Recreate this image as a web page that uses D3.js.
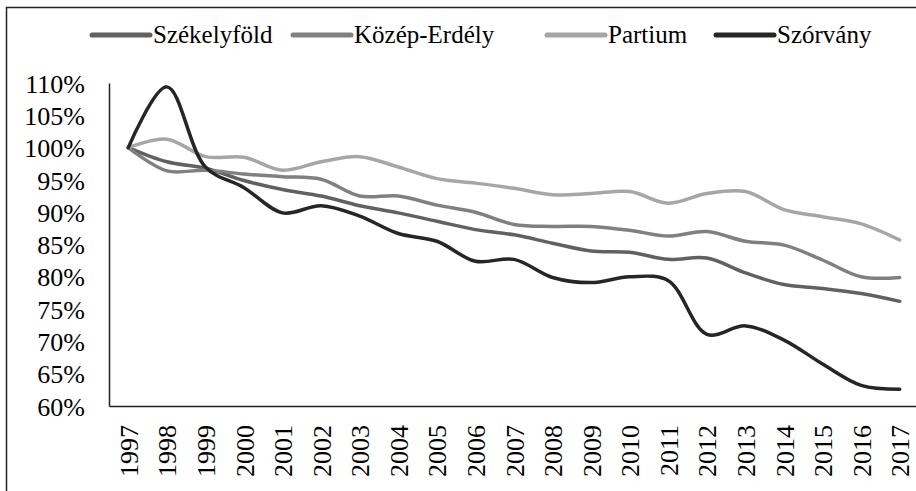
<!DOCTYPE html>
<html>
<head>
<meta charset="utf-8">
<script src="https://cdn.jsdelivr.net/npm/d3@7"></script>
<style>
  html, body { margin: 0; padding: 0; background: #fff; }
  svg { display: block; font-family: "Liberation Serif", serif; }
</style>
</head>
<body>
<svg id="chart" width="916" height="491"></svg>
<script>
const years = ["1997","1998","1999","2000","2001","2002","2003","2004","2005","2006","2007","2008","2009","2010","2011","2012","2013","2014","2015","2016","2017"];
const seriesNames = ["Székelyföld", "Közép-Erdély", "Partium", "Szórvány"];
const szekelyfold = [100, 97.8, 96.8, 94.9, 93.5, 92.5, 91.0, 89.9, 88.6, 87.3, 86.5, 85.2, 84.0, 83.8, 82.7, 82.9, 80.6, 78.8, 78.2, 77.4, 76.2];
const kozepErdely = [100, 96.4, 96.5, 95.9, 95.5, 95.1, 92.5, 92.5, 91.1, 90.0, 88.1, 87.8, 87.8, 87.2, 86.3, 87.0, 85.5, 84.9, 82.6, 80.0, 79.9];
const partium = [100, 101.3, 98.6, 98.5, 96.5, 97.8, 98.6, 97.0, 95.2, 94.5, 93.7, 92.7, 92.9, 93.2, 91.4, 92.9, 93.2, 90.4, 89.3, 88.2, 85.7];
const szorvany = [100, 109.4, 97.0, 93.8, 89.9, 91.0, 89.4, 86.7, 85.5, 82.4, 82.7, 79.9, 79.1, 80.0, 79.4, 71.1, 72.4, 70.2, 66.5, 63.2, 62.6];
const yTicks = [60, 65, 70, 75, 80, 85, 90, 95, 100, 105, 110];
const colors = ["#616161", "#808080", "#a6a6a6", "#262626"];

const series = [szekelyfold, kozepErdely, partium, szorvany];
const FONT = "Liberation Serif";

const svg = d3.select("#chart").attr("font-family", FONT);

// outer frame
svg.append("path")
  .attr("d", "M6.5,491 L6.5,7.5 L916,7.5")
  .attr("fill", "none").attr("stroke", "#222").attr("stroke-width", 1.5);

const x = d3.scalePoint().domain(years).range([109, 919]).padding(0.5);
const y = d3.scaleLinear().domain([60, 110]).range([406, 83]);

// y axis
const yAxis = d3.axisLeft(y).tickValues(yTicks).tickSize(0).tickPadding(24)
  .tickFormat(d => d + "%");
const gy = svg.append("g").attr("transform", "translate(109,0)").call(yAxis)
  .attr("font-family", FONT).attr("font-size", 26);
gy.select(".domain").attr("stroke", "#222").attr("stroke-width", 1.5);
gy.selectAll("text").attr("dy", "0.35em").attr("fill", "#000");

// x axis
const xAxis = d3.axisBottom(x).tickSize(0).tickPadding(0);
const gx = svg.append("g").attr("transform", "translate(0,406)").call(xAxis)
  .attr("font-family", FONT).attr("font-size", 26);
gx.select(".domain").attr("stroke", "#222").attr("stroke-width", 1.5);
gx.selectAll("text")
  .attr("fill", "#000")
  .attr("text-anchor", "end")
  .attr("transform", "rotate(-90)")
  .attr("x", -19)
  .attr("y", 0)
  .attr("dy", "0.35em");

// lines
const line = d3.line()
  .x((d, i) => x(years[i]))
  .y(d => y(d))
  .curve(d3.curveCatmullRom.alpha(0.5));

series.forEach((s, k) => {
  svg.append("path")
    .datum(s)
    .attr("d", line)
    .attr("fill", "none")
    .attr("stroke", colors[k])
    .attr("stroke-width", 3.5)
    .attr("stroke-linecap", "round")
    .attr("stroke-linejoin", "round");
});

// legend
const legendX = [92, 293, 547, 716];
const lg = svg.append("g").attr("font-family", FONT).attr("font-size", 25);
seriesNames.forEach((name, k) => {
  const g = lg.append("g").attr("transform", `translate(${legendX[k]},35)`);
  g.append("line").attr("x1", 0).attr("x2", 58).attr("y1", 0).attr("y2", 0)
    .attr("stroke", colors[k]).attr("stroke-width", 5).attr("stroke-linecap", "round");
  g.append("text").attr("x", 61).attr("y", 0).attr("dy", "0.33em")
    .attr("font-family", FONT)
    .attr("fill", "#000")
    .text(name);
});
</script>
</body>
</html>
